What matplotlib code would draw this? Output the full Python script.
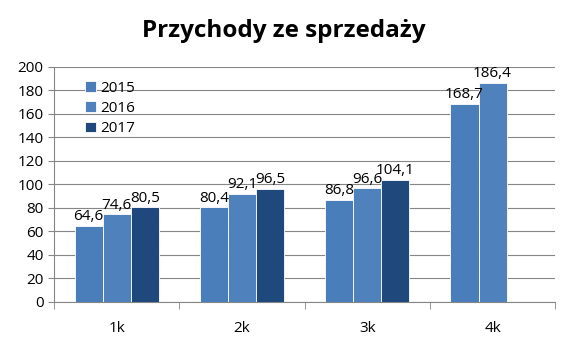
import numpy as np
import matplotlib.pyplot as plt
from matplotlib.ticker import FixedLocator

categories = ["1k", "2k", "3k", "4k"]
years = ["2015", "2016", "2017"]
v2015 = [64.6, 80.4, 86.8, 168.7]
v2016 = [74.6, 92.1, 96.6, 186.4]
v2017 = [80.5, 96.5, 104.1, None]
colors = ["#4a7ebb", "#4f81bd", "#1f497d"]

plt.rcParams['font.family'] = ['Open Sans', 'DejaVu Sans']

fig = plt.figure(figsize=(5.67, 3.53), dpi=100)
ax = fig.add_axes([0.0952, 0.1445, 0.884, 0.666])

x = np.arange(len(categories))
w = 0.224
series = [v2015, v2016, v2017]
for i, (vals, col, yr) in enumerate(zip(series, colors, years)):
    xs = [x[j] + (i - 1) * w for j in range(len(vals)) if vals[j] is not None]
    ys = [v for v in vals if v is not None]
    bars = ax.bar(xs, ys, width=w, color=col, edgecolor="white", linewidth=0.6, label=yr, zorder=3)
    for b, v in zip(bars, ys):
        ax.text(b.get_x() + b.get_width() / 2, v + 1.5, f"{v:.1f}".replace(".", ","),
                ha="center", va="bottom", fontsize=11, zorder=4)

ax.set_xlim(-0.5, 3.5)
ax.set_ylim(0, 200)
ax.set_yticks(range(0, 201, 20))
ax.yaxis.grid(True, color="#868686", linewidth=0.8, zorder=0)
ax.set_xticks(x)
ax.set_xticklabels(categories, fontsize=11)
ax.xaxis.set_minor_locator(FixedLocator([-0.5, 0.5, 1.5, 2.5, 3.5]))
ax.tick_params(axis="x", which="major", length=0, pad=14)
ax.tick_params(axis="x", which="minor", length=5, color="#868686")
ax.tick_params(axis="y", length=4, color="#868686", labelsize=11)
for s in ["top", "right"]:
    ax.spines[s].set_visible(False)
for s in ["left", "bottom"]:
    ax.spines[s].set_color("#868686")

ax.legend(loc="upper left", bbox_to_anchor=(0.035, 1.0), frameon=False, fontsize=11,
          handlelength=0.7, handleheight=0.7, handletextpad=0.3, labelspacing=0.35)

fig.suptitle("Przychody ze sprzedaży", x=0.5, y=0.945, fontsize=17.5, fontweight="bold")
fig.savefig("out.png", dpi=100)
